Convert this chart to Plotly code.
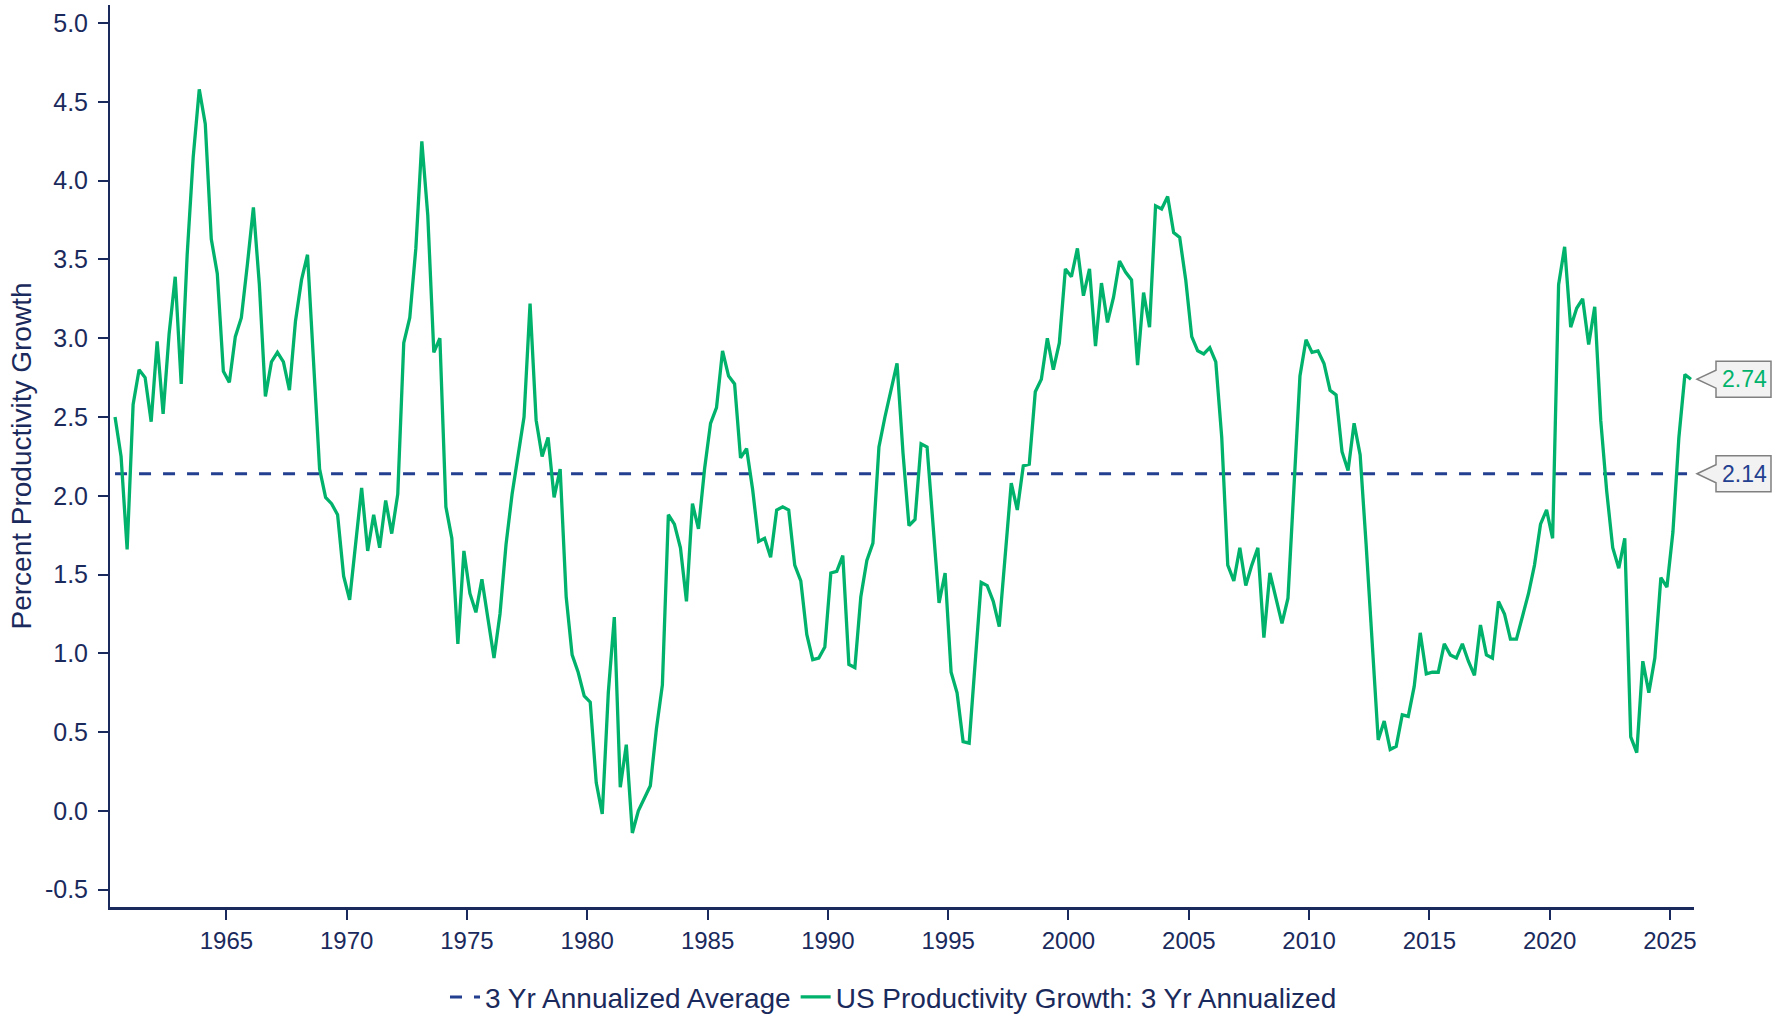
import pandas as pd
import plotly.graph_objects as go

# ---- data ----
first_quarter = "1960Q2"
productivity = [
    2.50, 2.25, 1.66, 2.58, 2.80, 2.75, 2.47, 2.98, 2.52, 3.03, 3.39, 2.71, 3.53, 4.15, 4.58, 4.36,
    3.63, 3.41, 2.79, 2.72, 3.01, 3.13, 3.47, 3.83, 3.34, 2.63, 2.85, 2.91, 2.85, 2.67, 3.11, 3.37,
    3.53, 2.85, 2.17, 1.99, 1.95, 1.88, 1.49,
    1.34, 1.70, 2.05, 1.65, 1.88, 1.67, 1.97, 1.76, 2.01, 2.97, 3.13, 3.57, 4.25, 3.78, 2.91, 3.00,
    1.93, 1.73, 1.06, 1.65, 1.38, 1.26, 1.47, 1.22, 0.97, 1.25, 1.69, 2.01, 2.27, 2.50, 3.22, 2.48,
    2.25, 2.37, 1.99, 2.17, 1.36, 0.99,
    0.88, 0.73, 0.69, 0.18, -0.02, 0.75, 1.23, 0.15, 0.42, -0.14, 0.00, 0.08, 0.16, 0.52, 0.80, 1.88,
    1.82, 1.67, 1.33, 1.95, 1.79, 2.17, 2.46, 2.56, 2.92, 2.76, 2.71, 2.24, 2.30, 2.04, 1.71, 1.73,
    1.61, 1.91, 1.93, 1.91, 1.56, 1.46,
    1.12, 0.96, 0.97, 1.04, 1.51, 1.52, 1.62, 0.93, 0.91, 1.36, 1.59, 1.70, 2.31, 2.50, 2.66, 2.84,
    2.27, 1.81, 1.85, 2.33, 2.31, 1.82, 1.32, 1.51, 0.88, 0.75, 0.44, 0.43, 0.94, 1.45, 1.43, 1.33,
    1.17, 1.62, 2.08, 1.91, 2.19, 2.20,
    2.66, 2.74, 3.00, 2.80, 2.97, 3.44, 3.39, 3.57, 3.27, 3.44, 2.95, 3.35, 3.10, 3.26, 3.49, 3.42,
    3.37, 2.83, 3.29, 3.07, 3.84, 3.82, 3.90, 3.67, 3.64, 3.37, 3.01, 2.92, 2.90, 2.94, 2.85, 2.37,
    1.56, 1.46, 1.67, 1.43, 1.56, 1.67, 1.10,
    1.51, 1.36, 1.19, 1.35, 2.10, 2.76, 2.99, 2.91, 2.92, 2.84, 2.67, 2.64, 2.28, 2.16, 2.46, 2.26,
    1.69, 1.07, 0.45, 0.57, 0.39, 0.41, 0.61, 0.60, 0.79, 1.13, 0.87, 0.88, 0.88, 1.06, 0.99, 0.97,
    1.06, 0.95, 0.86, 1.18, 0.99, 0.97,
    1.33, 1.25, 1.09, 1.09, 1.23, 1.38, 1.56, 1.82, 1.91, 1.73, 3.34, 3.58, 3.07, 3.19, 3.25, 2.96,
    3.20, 2.48, 2.03, 1.67, 1.54, 1.73, 0.47, 0.37, 0.95, 0.75, 0.97, 1.48, 1.42, 1.77, 2.37, 2.77,
    2.74,
]
average_value = 2.14
latest_value = 2.74
tick_years = list(range(1965, 2030, 5))
y_ticks = [-0.5, 0.0, 0.5, 1.0, 1.5, 2.0, 2.5, 3.0, 3.5, 4.0, 4.5, 5.0]

periods = pd.period_range(first_quarter, periods=len(productivity), freq="Q")
dates = [p.start_time + (p.end_time - p.start_time) / 2 for p in periods]
average = [average_value] * len(dates)

NAVY = "#1b2a5c"
DASH = "#233f8f"
GREEN = "#00b26b"
FONT = "Liberation Sans, Arial, sans-serif"

fig = go.Figure()
fig.add_trace(go.Scatter(
    x=dates, y=average, mode="lines", name="3 Yr Annualized Average",
    line=dict(color=DASH, width=3, dash="12px,12px"),
))
fig.add_trace(go.Scatter(
    x=dates, y=productivity, mode="lines", name="US Productivity Growth: 3 Yr Annualized",
    line=dict(color=GREEN, width=3.3),
))

def callout(value, color):
    fig.add_shape(
        type="path", xref="paper", yref="y", xsizemode="pixel", ysizemode="pixel",
        xanchor=1.0, yanchor=value,
        path="M 3,0 L 22,9 L 22,18 L 77,18 L 77,-18 L 22,-18 L 22,-9 Z",
        fillcolor="#f2f2f2", line=dict(color="#808080", width=1.5), layer="above",
    )
    fig.add_annotation(
        xref="paper", yref="y", x=1.0, y=value, xshift=50, showarrow=False,
        text=f"{value:.2f}", font=dict(family=FONT, size=23, color=color),
        xanchor="center", yanchor="middle",
    )

callout(latest_value, GREEN)
callout(average_value, DASH)

fig.update_layout(
    width=1787, height=1014,
    margin=dict(l=110, r=93, t=5, b=107, autoexpand=False),
    paper_bgcolor="white", plot_bgcolor="white",
    font=dict(family=FONT, color=NAVY, size=20),
    showlegend=True,
    legend=dict(
        orientation="h", xref="container", yref="paper", x=0.5, y=-0.1,
        xanchor="center", yanchor="middle", font=dict(size=28, color=NAVY),
        itemwidth=30, borderwidth=0, bgcolor="rgba(0,0,0,0)",
    ),
    xaxis=dict(
        range=["1960-03-01", "2026-01-01"],
        tickvals=[f"{y}-01-01" for y in tick_years],
        ticktext=[str(y) for y in tick_years],
        showgrid=False, zeroline=False, automargin=False,
        showline=True, linecolor=NAVY, linewidth=2.5,
        ticks="outside", ticklen=10, tickwidth=2, tickcolor=NAVY,
        tickfont=dict(size=24, color=NAVY),
    ),
    yaxis=dict(
        range=[-0.61, 5.115],
        tickvals=y_ticks, ticktext=[f"{v:.1f}" for v in y_ticks],
        showgrid=False, zeroline=False, automargin=False,
        showline=True, linecolor=NAVY, linewidth=2,
        ticks="outside", ticklen=10, tickwidth=2, tickcolor=NAVY,
        tickfont=dict(size=25, color=NAVY), ticklabelstandoff=5,
        title=dict(text="Percent Productivity Growth", font=dict(size=28, color=NAVY), standoff=5),
    ),
)

fig.write_html(
    "out.html",
    config={"displayModeBar": False},
    post_script="document.body.style.margin='0px';document.body.style.overflow='hidden';",
)
